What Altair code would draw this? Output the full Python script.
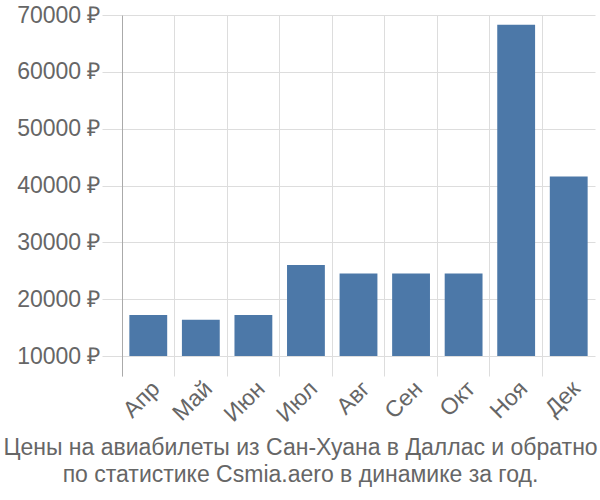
import altair as alt
import pandas as pd

months = ["Апр", "Май", "Июн", "Июл", "Авг", "Сен", "Окт", "Ноя", "Дек"]
prices = [17200, 16400, 17200, 26000, 24500, 24500, 24500, 68300, 41600]
y_ticks = [10000, 20000, 30000, 40000, 50000, 60000, 70000]
title_lines = ["Цены на авиабилеты из Сан-Хуана в Даллас и обратно",
               "по статистике Csmia.aero в динамике за год."]

df = pd.DataFrame({"month": months, "price": prices})

font = "Liberation Sans"
grey_text = "#666666"

chart = alt.Chart(df).mark_bar(
    color="#4c78a8", width=alt.RelativeBandSize(0.72)
).encode(
    x=alt.X("month:N", sort=months, title=None,
            scale=alt.Scale(paddingInner=0, paddingOuter=0),
            axis=alt.Axis(labelAngle=-45, labelFontSize=23, labelColor=grey_text,
                          labelFont=font, domain=False, ticks=False, grid=True,
                          bandPosition=0, gridColor="#dddddd", labelPadding=1)),
    y=alt.Y("price:Q", title=None,
            scale=alt.Scale(domain=[6481, 70000], nice=False, zero=False),
            axis=alt.Axis(values=y_ticks, labelExpr="datum.value + ' ₽'",
                          labelFontSize=23, labelColor=grey_text, labelFont=font,
                          tickSize=20, tickColor="#dddddd", gridColor="#dddddd",
                          domainColor="#aaaaaa", labelPadding=2)),
    y2=alt.datum(10000),
).properties(
    width=473, height=361,
    autosize=alt.AutoSizeParams(type="none"),
    padding={"left": 122, "top": 15, "right": 5, "bottom": 124},
    title=alt.TitleParams(title_lines, orient="bottom", anchor="middle",
                          fontSize=23, font=font, color=grey_text,
                          fontWeight="normal", offset=11, lineHeight=27, dx=-58),
).configure_view(stroke=None)

chart.save("out.html", embed_options={"renderer": "svg", "actions": False})
